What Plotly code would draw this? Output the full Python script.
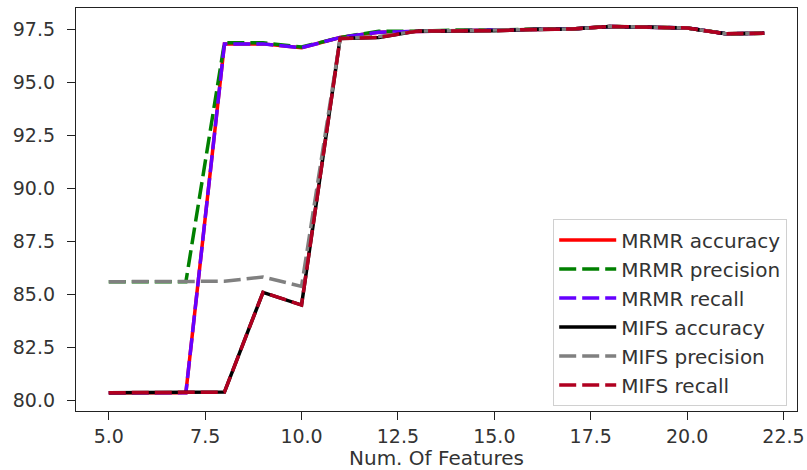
import plotly.graph_objects as go

num_features = list(range(5, 23))

mrmr_accuracy = [80.37, 80.37, 80.37, 96.80, 96.80, 96.62, 97.10, 97.35, 97.40, 97.42,
                 97.45, 97.48, 97.50, 97.62, 97.60, 97.55, 97.28, 97.30]
mrmr_precision = [85.60, 85.60, 85.60, 96.85, 96.85, 96.65, 97.10, 97.40, 97.40, 97.45,
                  97.45, 97.50, 97.50, 97.62, 97.60, 97.55, 97.28, 97.30]
mrmr_recall = [80.37, 80.37, 80.37, 96.80, 96.80, 96.62, 97.10, 97.35, 97.40, 97.42,
               97.45, 97.48, 97.50, 97.62, 97.60, 97.55, 97.28, 97.30]
mifs_accuracy = [80.37, 80.37, 80.37, 80.40, 85.10, 84.50, 97.05, 97.10, 97.40, 97.40,
                 97.42, 97.48, 97.50, 97.62, 97.60, 97.55, 97.28, 97.30]
mifs_precision = [85.60, 85.60, 85.60, 85.62, 85.82, 85.38, 97.05, 97.15, 97.40, 97.42,
                  97.45, 97.48, 97.50, 97.62, 97.60, 97.55, 97.28, 97.30]
mifs_recall = [80.37, 80.37, 80.37, 80.40, 85.10, 84.50, 97.05, 97.10, 97.40, 97.40,
               97.42, 97.48, 97.50, 97.62, 97.60, 97.55, 97.28, 97.30]

series = [
    ("MRMR accuracy", mrmr_accuracy, "#ff0000", "solid"),
    ("MRMR precision", mrmr_precision, "#008000", "17px,6px"),
    ("MRMR recall", mrmr_recall, "#6600ff", "17px,6px"),
    ("MIFS accuracy", mifs_accuracy, "#000000", "solid"),
    ("MIFS precision", mifs_precision, "#808080", "17px,6px"),
    ("MIFS recall", mifs_recall, "#b00020", "17px,6px"),
]

fig = go.Figure()
for name, vals, color, dash in series:
    fig.add_trace(go.Scatter(x=num_features, y=vals, mode="lines", name=name,
                             line=dict(color=color, width=3.5, dash=dash)))

font_family = "DejaVu Sans"
axis_common = dict(showline=True, mirror=True, linecolor="#222", linewidth=1.3,
                   showgrid=False, zeroline=False, ticks="outside", ticklen=8,
                   tickcolor="#222", tickwidth=1.3, automargin=False,
                   tickfont=dict(family=font_family, size=19, color="#333"))

fig.update_layout(
    width=807, height=470,
    margin=dict(l=76, r=10, t=8, b=59),
    paper_bgcolor="white", plot_bgcolor="white",
    font=dict(family=font_family, color="#333"),
    showlegend=True,
    legend=dict(x=0.986, y=0.012, xanchor="right", yanchor="bottom",
                bgcolor="white", bordercolor="#d0d0d0", borderwidth=1.3,
                font=dict(family=font_family, size=20, color="#333"),
                itemwidth=57, tracegroupgap=0),
    xaxis=dict(range=[4.15, 22.85], tickvals=[5, 7.5, 10, 12.5, 15, 17.5, 20, 22.5],
               ticktext=["5.0", "7.5", "10.0", "12.5", "15.0", "17.5", "20.0", "22.5"],
               title=dict(text="Num. Of Features", font=dict(family=font_family, size=20, color="#333"),
                          standoff=2),
               **axis_common),
    yaxis=dict(range=[79.51, 98.49], tickvals=[80, 82.5, 85, 87.5, 90, 92.5, 95, 97.5],
               ticktext=["80.0", "82.5", "85.0", "87.5", "90.0", "92.5", "95.0", "97.5"],
               ticklabelstandoff=8,
               **axis_common),
)

fig.write_html("out.html", config={"displayModeBar": False},
               post_script="document.body.style.margin='0';document.body.style.padding='0';")
